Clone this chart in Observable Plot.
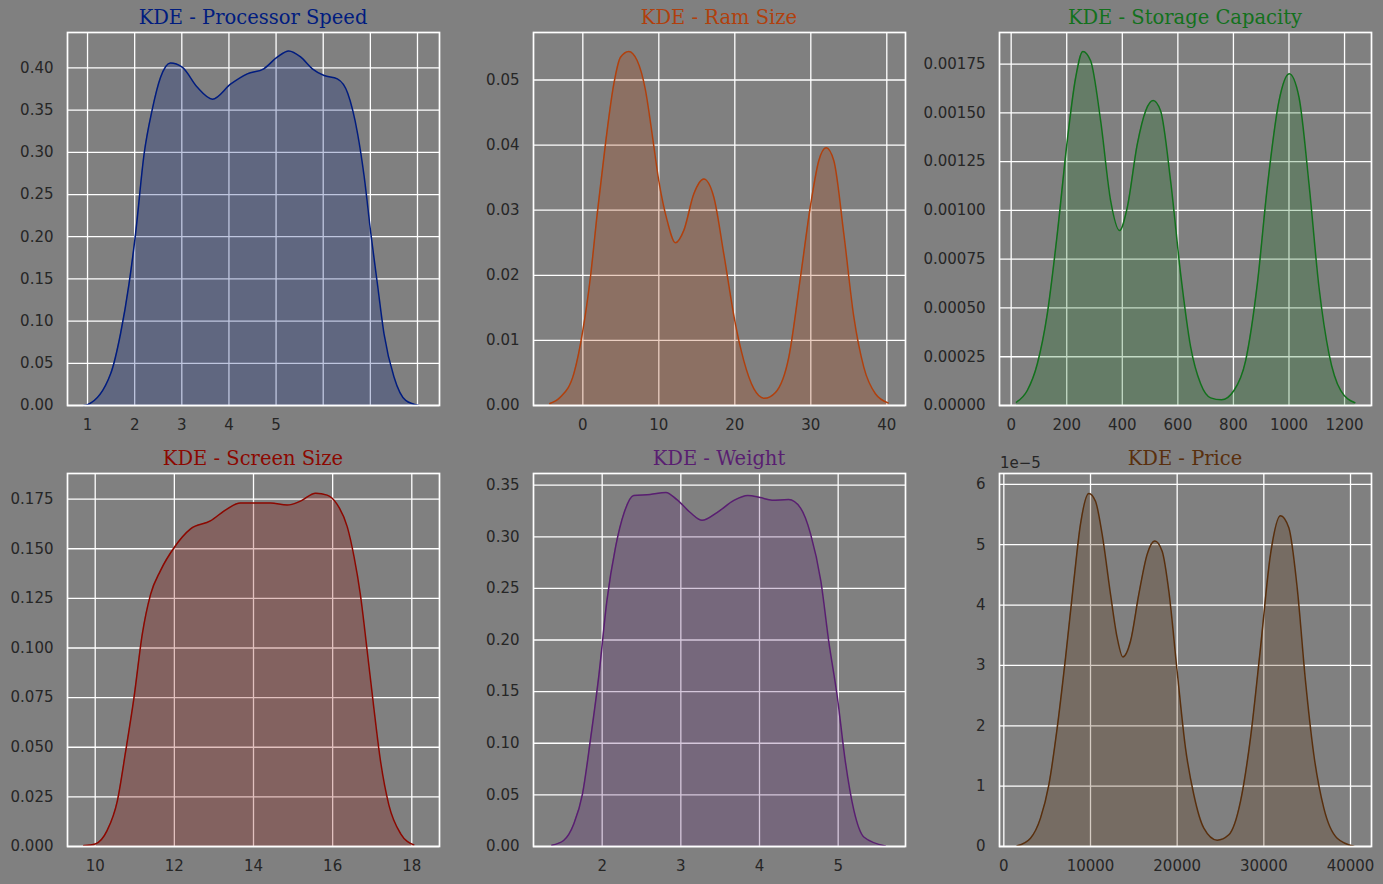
<!DOCTYPE html>
<html><head><meta charset="utf-8">
<script src="https://cdn.jsdelivr.net/npm/d3@7"></script>
<script src="https://cdn.jsdelivr.net/npm/@observablehq/plot@0.6"></script>
<style>
html,body{margin:0;padding:0;background:#808080;}
#fig{position:relative;width:1383px;height:884px;background:#808080;overflow:hidden;}
.panel{position:absolute;}
.title{position:absolute;font-family:"DejaVu Serif",serif;font-size:19.5px;line-height:19.5px;text-align:center;white-space:nowrap;}
.offset{position:absolute;font-family:"DejaVu Sans",sans-serif;font-size:15px;line-height:15px;color:#262626;}
</style></head><body><div id="fig"></div>
<script>
// ---------- data ----------
const titles = ["KDE - Processor Speed","KDE - Ram Size","KDE - Storage Capacity","KDE - Screen Size","KDE - Weight","KDE - Price"];
const colors = ["#001c7f","#b1400d","#12711c","#8c0800","#591e71","#592f0d"];

const procX = [0.92,1.0,1.49,1.70,1.88,2.02,2.2,2.37,2.55,2.76,3.01,3.33,3.65,4.04,4.39,4.74,5.03,5.27,5.52,5.77,6.02,6.30,6.52,6.73,6.87,7.01,7.15,7.29,7.50,7.75,8.03];
const procD = [0.0,0.001,0.0375,0.085,0.144,0.204,0.298,0.350,0.389,0.406,0.401,0.377,0.363,0.381,0.393,0.399,0.413,0.420,0.413,0.399,0.391,0.387,0.370,0.322,0.271,0.204,0.144,0.085,0.034,0.006,0.0];
const procXTicks = [1,2,3,4,5,6,7,8];
const procXLabels = ["1","2","3","4","5","","",""];
const procYTicks = [0,0.05,0.10,0.15,0.20,0.25,0.30,0.35,0.40];

const ramX = [-4.34,-2.94,-1.18,0,1.0,1.89,2.98,4.08,4.96,6.05,7.15,8.25,9.12,10,11.1,12.19,13.29,14.6,15.92,17.24,18.55,20,21.18,22.5,23.9,25.35,27.1,28.64,30,31.05,32.02,33.03,34.34,35.66,36.97,38.5,40.17];
const ramD = [0.0003,0.0013,0.0049,0.0115,0.0197,0.0294,0.0402,0.0494,0.0535,0.0544,0.0530,0.0484,0.0417,0.0345,0.0284,0.0250,0.0269,0.0325,0.0348,0.0320,0.0233,0.0130,0.0069,0.0026,0.0011,0.0020,0.0074,0.0197,0.0310,0.0376,0.0396,0.0376,0.0264,0.0136,0.0059,0.0018,0.0004];
const ramXTicks = [0,10,20,30,40];
const ramYTicks = [0,0.01,0.02,0.03,0.04,0.05];

const storX = [19,58,94,130,166,202,232,258,286,322,358,390,418,454,484,511,538,574,610,646,682,718,757,802,844,886,922,964,1001,1036,1072,1108,1144,1186,1237];
const storD = [0.000017,0.000077,0.000213,0.00047,0.00088,0.001358,0.00168,0.001815,0.001767,0.00146,0.00105,0.000897,0.001016,0.00134,0.00151,0.001563,0.00151,0.00115,0.000675,0.0003,0.000111,0.000039,0.000029,0.000077,0.00023,0.000623,0.00112,0.00156,0.0017,0.00158,0.001136,0.000606,0.000265,0.000077,0.000014];
const storXTicks = [0,200,400,600,800,1000,1200];
const storYTicks = [0,0.00025,0.0005,0.00075,0.001,0.00125,0.0015,0.00175];

const screenX = [9.71,10,10.30,10.56,10.77,10.98,11.19,11.40,11.65,12.01,12.41,12.91,13.33,13.67,14.01,14.43,14.85,15.19,15.57,15.86,16.11,16.37,16.54,16.70,16.87,17.04,17.21,17.42,17.72,18.05];
const screenD = [0.0005,0.0013,0.008,0.023,0.048,0.075,0.107,0.127,0.139,0.151,0.160,0.164,0.170,0.173,0.173,0.173,0.172,0.174,0.178,0.177,0.1725,0.161,0.146,0.127,0.099,0.070,0.043,0.021,0.0064,0.0008];
const screenXTicks = [10,12,14,16,18];
const screenYTicks = [0,0.025,0.05,0.075,0.1,0.125,0.15,0.175];

const weightX = [1.36,1.51,1.64,1.75,1.85,1.96,2.06,2.17,2.28,2.40,2.61,2.81,2.95,3.12,3.27,3.46,3.67,3.85,4.01,4.16,4.37,4.52,4.65,4.78,4.88,4.99,5.09,5.20,5.33,5.60];
const weightD = [0.0013,0.0058,0.022,0.051,0.103,0.167,0.238,0.290,0.3235,0.340,0.341,0.343,0.336,0.3235,0.316,0.3235,0.335,0.340,0.338,0.3355,0.336,0.328,0.3026,0.257,0.199,0.1445,0.083,0.035,0.009,0.0006];
const weightXTicks = [2,3,4,5];
const weightYTicks = [0,0.05,0.1,0.15,0.2,0.25,0.3,0.35];

// price density in units of 1e-5
const priceX = [1538,3077,4231,5192,6154,7115,8077,8846,9808,10577,11346,12308,13077,13731,14615,15577,16538,17423,18269,19038,20000,20962,21923,23077,24615,25962,27308,28462,29615,30769,31923,32885,33846,34808,35769,36923,38462,40385];
const priceD = [0.011,0.138,0.47,1.02,1.96,3.12,4.40,5.34,5.85,5.72,5.17,4.18,3.46,3.14,3.40,4.18,4.84,5.06,4.89,4.23,2.90,1.63,0.857,0.304,0.105,0.194,0.747,1.80,3.29,4.84,5.48,5.28,4.29,2.74,1.52,0.636,0.138,0.006];
const priceXTicks = [0,10000,20000,30000,40000];
const priceYTicks = [0,1,2,3,4,5,6];
const priceOffsetLabel = "1e\u22125";

// ---------- layout ----------
const frames = [
  {l:67, r:439, t:32, b:405, cx:0, cy:0},
  {l:533, r:905, t:32, b:405, cx:460, cy:0},
  {l:999, r:1371, t:32, b:405, cx:920, cy:0},
  {l:67, r:439, t:473, b:846, cx:0, cy:440},
  {l:533, r:905, t:473, b:846, cx:460, cy:440},
  {l:999, r:1371, t:473, b:846, cx:920, cy:440}
];

const panels = [
  {x:procX, y:procD, xd:[0.575,8.467], yd:[0,0.442], xt:procXTicks, yt:procYTicks, xf:(d,i)=>procXLabels[i], yf:d=>d.toFixed(2)},
  {x:ramX, y:ramD, xd:[-6.49,42.46], yd:[0,0.0573], xt:ramXTicks, yt:ramYTicks, xf:d=>String(d), yf:d=>d.toFixed(2)},
  {x:storX, y:storD, xd:[-42,1297], yd:[0,0.001912], xt:storXTicks, yt:storYTicks, xf:d=>String(d), yf:d=>d.toFixed(5)},
  {x:screenX, y:screenD, xd:[9.30,18.70], yd:[0,0.1879], xt:screenXTicks, yt:screenYTicks, xf:d=>String(d), yf:d=>d.toFixed(3)},
  {x:weightX, y:weightD, xd:[1.127,5.856], yd:[0,0.3613], xt:weightXTicks, yt:weightYTicks, xf:d=>String(d), yf:d=>d.toFixed(2)},
  {x:priceX, y:priceD, xd:[-500,42423], yd:[0,6.18], xt:priceXTicks, yt:priceYTicks, xf:d=>String(d), yf:d=>String(d)}
];

const fig = document.getElementById("fig");
panels.forEach((p, k) => {
  const f = frames[k];
  const data = p.x.map((v, i) => ({x: v, y: p.y[i]}));
  const mr = 12, mb = 38;
  const width = f.r - f.cx + mr, height = f.b - f.cy + mb;
  const svg = Plot.plot({
    width, height,
    marginLeft: f.l - f.cx, marginRight: mr, marginTop: f.t - f.cy, marginBottom: mb,
    style: {background: "transparent", color: "#262626", fontFamily: "DejaVu Sans, sans-serif", fontSize: "15px", overflow: "visible"},
    x: {domain: p.xd},
    y: {domain: p.yd},
    marks: [
      Plot.gridX(p.xt, {stroke: "white", strokeOpacity: 1, strokeWidth: 1.3}),
      Plot.gridY(p.yt, {stroke: "white", strokeOpacity: 1, strokeWidth: 1.3}),
      Plot.areaY(data, {x: "x", y: "y", fill: colors[k], fillOpacity: 0.25, curve: "monotone-x"}),
      Plot.lineY(data, {x: "x", y: "y", stroke: colors[k], strokeWidth: 1.5, curve: "monotone-x"}),
      Plot.frame({stroke: "white", strokeWidth: 1.7}),
      Plot.axisX(p.xt, {tickSize: 0, tickPadding: 14, tickFormat: p.xf, label: null}),
      Plot.axisY(p.yt, {tickSize: 0, tickPadding: 14, tickFormat: p.yf, label: null})
    ]
  });
  svg.classList.add("panel");
  svg.style.left = f.cx + "px";
  svg.style.top = f.cy + "px";
  fig.appendChild(svg);

  const t = document.createElement("div");
  t.className = "title";
  t.textContent = titles[k];
  t.style.color = colors[k];
  t.style.left = f.l + "px";
  t.style.width = (f.r - f.l) + "px";
  t.style.top = (f.t - 24.5) + "px";
  fig.appendChild(t);
});

const off = document.createElement("div");
off.className = "offset";
off.textContent = priceOffsetLabel;
off.style.left = (frames[5].l + 1) + "px";
off.style.top = (frames[5].t - 17) + "px";
fig.appendChild(off);
</script></body></html>
